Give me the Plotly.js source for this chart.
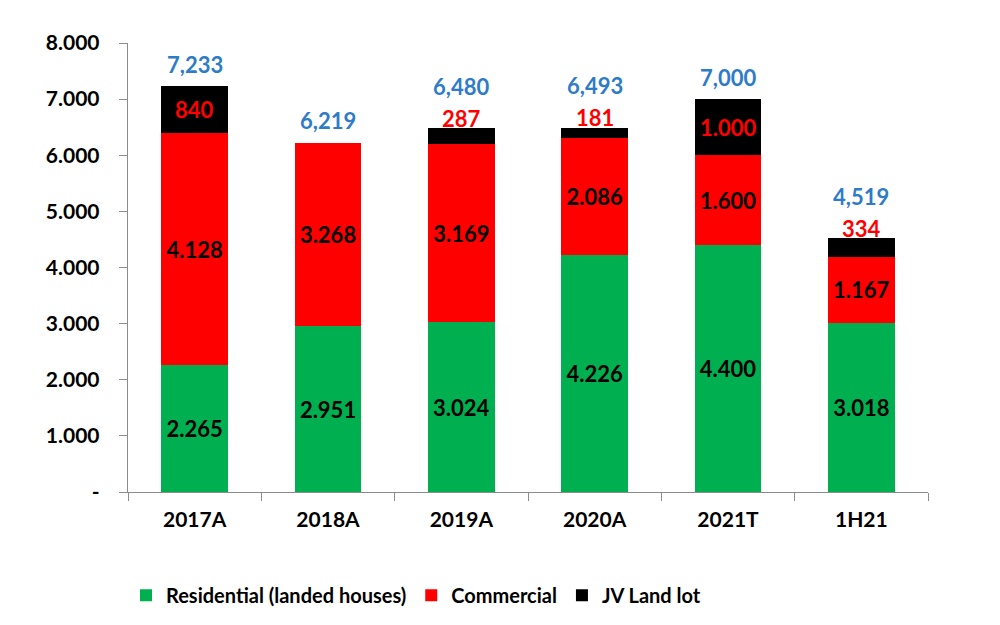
<!DOCTYPE html>
<html><head><meta charset="utf-8">
<script src="https://cdn.plot.ly/plotly-3.0.1.min.js"></script>
<style>body{margin:0;background:#fff}#c{width:1000px;height:625px}</style>
</head><body><div id="c"></div>
<script>
const categories = ['2017A','2018A','2019A','2020A','2021T','1H21'];
const residential = [2265, 2951, 3024, 4226, 4400, 3018];
const commercial = [4128, 3268, 3169, 2086, 1600, 1167];
const jvLandLot = [840, 0, 287, 181, 1000, 334];
const totals = [7233, 6219, 6480, 6493, 7000, 4519];
const yTickVals = [0,1000,2000,3000,4000,5000,6000,7000,8000];
const yTickText = ['-','1.000','2.000','3.000','4.000','5.000','6.000','7.000','8.000'];

const FONT = 'Lato, "Open Sans", sans-serif';
const dot = v => v.toLocaleString('en-US').replace(/,/g,'.');
const comma = v => v.toLocaleString('en-US');

const common = {type:'bar', x:categories, textposition:'inside', insidetextanchor:'middle',
  constraintext:'none', hoverinfo:'skip', cliponaxis:false};
const traces = [
  Object.assign({}, common, {name:'Residential (landed houses)', y:residential,
    marker:{color:'#00b050'}, text:residential.map(dot),
    textfont:{family:FONT, size:22, color:'#000', weight:'bold'}}),
  Object.assign({}, common, {name:'Commercial', y:commercial,
    marker:{color:'#ff0000'}, text:commercial.map(dot),
    textfont:{family:FONT, size:22, color:'#000', weight:'bold'}}),
  Object.assign({}, common, {name:'JV Land lot', y:jvLandLot,
    marker:{color:'#000000'}, text:jvLandLot.map(()=>''),
    textfont:{family:FONT, size:22, color:'#ff0000', weight:'bold'}})
];

const annotations = [];
categories.forEach((c,i)=>{
  const base = residential[i] + commercial[i];
  const top = base + jvLandLot[i];
  const small = jvLandLot[i] > 0 && jvLandLot[i] < 500;
  if (jvLandLot[i] > 0) {
    annotations.push(small
      ? {x:c, y:top, yanchor:'middle', yshift:10, text:dot(jvLandLot[i]), showarrow:false,
         font:{family:FONT, size:22, color:'#ff0000', weight:'bold'}}
      : {x:c, y:base + jvLandLot[i]/2, yanchor:'middle', text:dot(jvLandLot[i]), showarrow:false,
         font:{family:FONT, size:22, color:'#ff0000', weight:'bold'}});
  }
  annotations.push({x:c, y:top, yanchor:'middle', yshift: small ? 42 : 22, text:comma(totals[i]),
    showarrow:false, font:{family:FONT, size:22, color:'#2e7bc8', weight:'bold'}});
});

const layout = {
  width:1000, height:625,
  margin:{l:128, r:72, t:43, b:132},
  barmode:'stack', bargap:0.5,
  paper_bgcolor:'#fff', plot_bgcolor:'#fff',
  showlegend:true,
  legend:{orientation:'h', x:0.36, xanchor:'center', y:-0.227, yanchor:'middle',
    font:{family:FONT, size:20, color:'#000', weight:'bold'}, traceorder:'normal',
    itemwidth:30},
  xaxis:{type:'category', showline:true, linecolor:'#8c8c8c', linewidth:1.3,
    ticks:'outside', tickson:'boundaries', ticklen:8, tickcolor:'#8c8c8c',
    tickfont:{family:FONT, size:21, color:'#000', weight:'bold'}, showgrid:false, zeroline:false,
    ticklabelstandoff:8, fixedrange:true},
  yaxis:{range:[0,8000], tickvals:yTickVals, ticktext:yTickText, showline:true,
    linecolor:'#8c8c8c', linewidth:1.3, ticks:'outside', ticklen:8, tickcolor:'#8c8c8c',
    tickfont:{family:FONT, size:21, color:'#000', weight:'bold'}, showgrid:false, zeroline:false,
    ticklabelstandoff:15, fixedrange:true},
  annotations:annotations
};
Plotly.newPlot('c', traces, layout, {displayModeBar:false, staticPlot:true});
</script></body></html>
